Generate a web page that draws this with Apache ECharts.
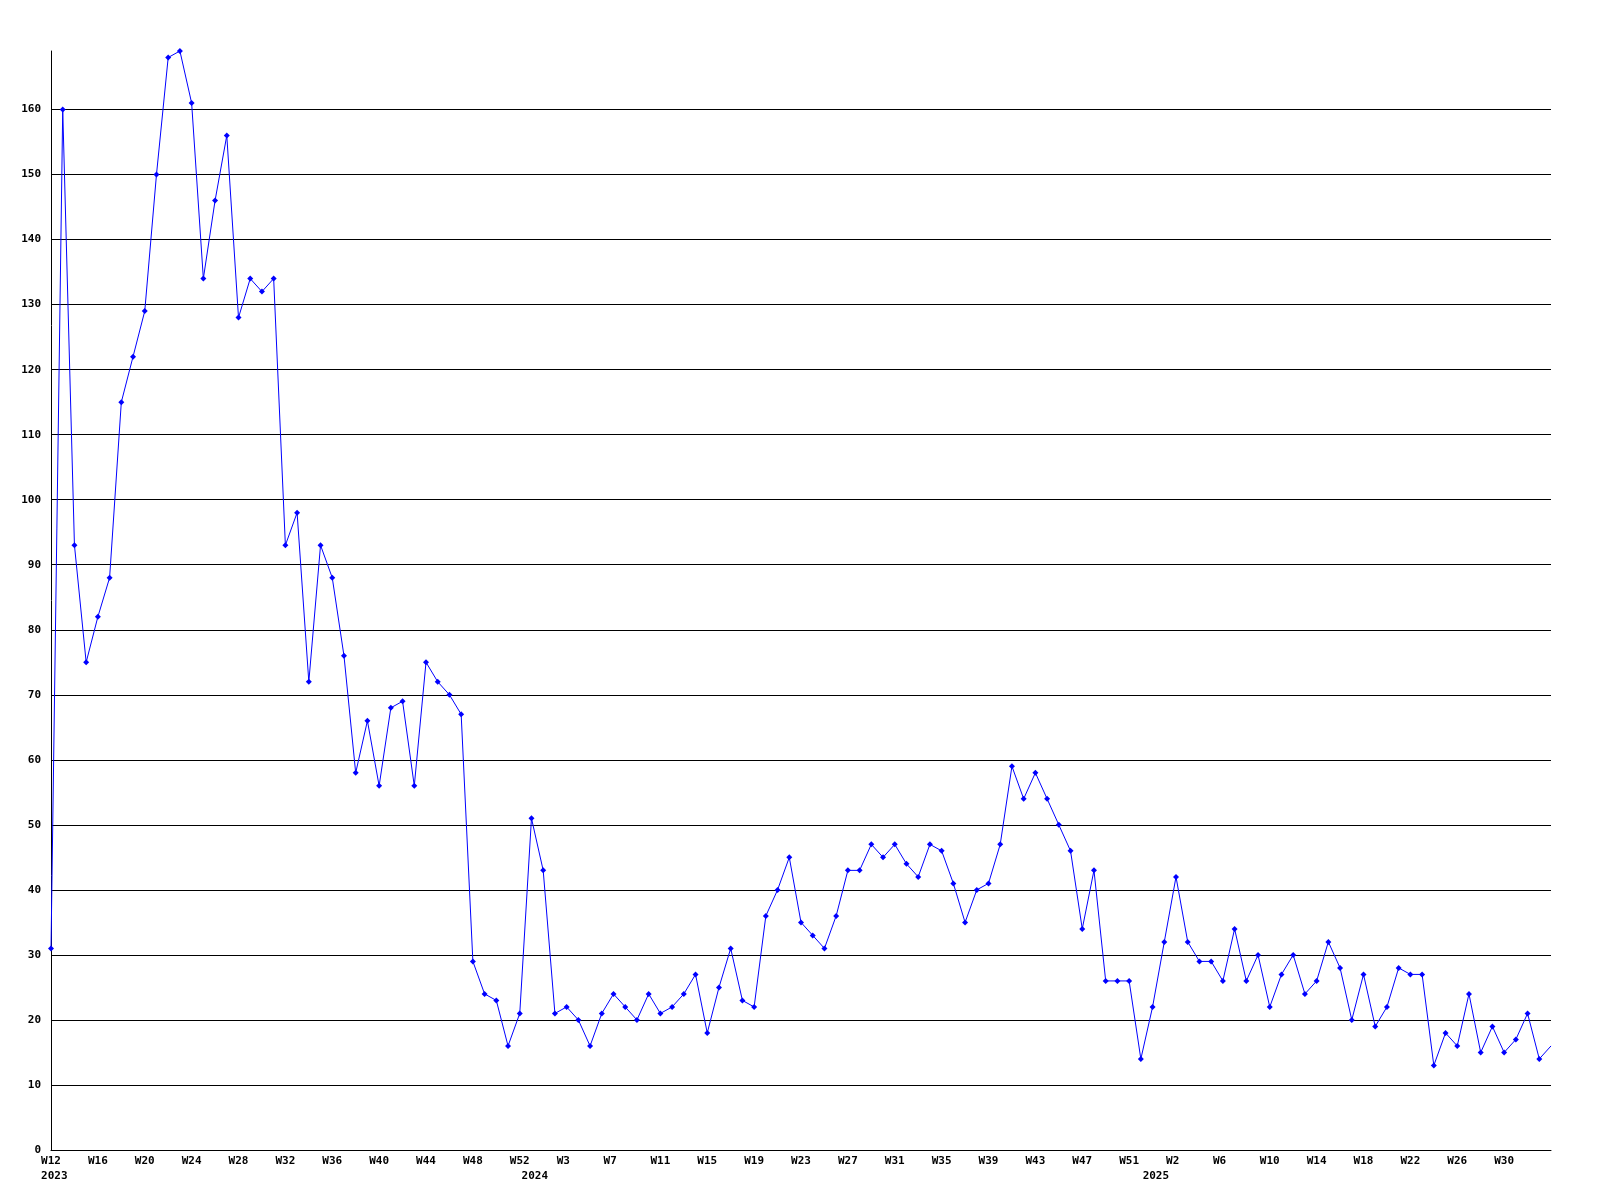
<!DOCTYPE html>
<html>
<head>
<meta charset="utf-8">
<script src="https://cdn.jsdelivr.net/npm/echarts@6/dist/echarts.min.js"></script>
<style>html,body{margin:0;padding:0;background:#fff}#c{width:1600px;height:1200px}</style>
</head>
<body>
<div id="c"></div>
<script>
// Years and their week categories
const years = ['2023', '2024', '2025'];
const weeks2023 = ['W12','W13','W14','W15','W16','W17','W18','W19','W20','W21','W22','W23','W24','W25','W26','W27','W28','W29','W30','W31','W32','W33','W34','W35','W36','W37','W38','W39','W40','W41','W42','W43','W44','W45','W46','W47','W48','W49','W50','W51','W52'];
const weeks2024 = ['W0','W1','W2','W3','W4','W5','W6','W7','W8','W9','W10','W11','W12','W13','W14','W15','W16','W17','W18','W19','W20','W21','W22','W23','W24','W25','W26','W27','W28','W29','W30','W31','W32','W33','W34','W35','W36','W37','W38','W39','W40','W41','W42','W43','W44','W45','W46','W47','W48','W49','W50','W51','W52'];
const weeks2025 = ['W0','W1','W2','W3','W4','W5','W6','W7','W8','W9','W10','W11','W12','W13','W14','W15','W16','W17','W18','W19','W20','W21','W22','W23','W24','W25','W26','W27','W28','W29','W30','W31','W32','W33','W34'];

// Weekly values
const values2023 = [31,160,93,75,82,88,115,122,129,150,168,169,161,134,146,156,128,134,132,134,93,98,72,93,88,76,58,66,56,68,69,56,75,72,70,67,29,24,23,16,21];
const values2024 = [51,43,21,22,20,16,21,24,22,20,24,21,22,24,27,18,25,31,23,22,36,40,45,35,33,31,36,43,43,47,45,47,44,42,47,46,41,35,40,41,47,59,54,58,54,50,46,34,43,26,26,26,14];
const values2025 = [22,32,42,32,29,29,26,34,26,30,22,27,30,24,26,32,28,20,27,19,22,28,27,27,13,18,16,24,15,19,15,17,21,14,16];

// Y tick labels
const yTicks = [0,10,20,30,40,50,60,70,80,90,100,110,120,130,140,150,160];

const weekBlocks = [weeks2023, weeks2024, weeks2025];
const categories = [].concat(weeks2023, weeks2024, weeks2025);
const values = [].concat(values2023, values2024, values2025);
const yearStart = {};
let off = 0;
weekBlocks.forEach((b, i) => { yearStart[off] = years[i]; off += b.length; });

const seriesData = values.map((v, i) => i === values.length - 1 ? {value: v, symbol: 'none'} : v);

const splitColors = yTicks.map(() => '#000000').concat(['rgba(0,0,0,0)']);
const font = 'DejaVu Sans Mono';

const chart = echarts.init(document.getElementById('c'), null, {renderer: 'canvas'});
chart.setOption({
  animation: false,
  backgroundColor: '#ffffff',
  grid: {left: 51, right: 49, top: 51, bottom: 50, containLabel: false, outerBoundsMode: 'none'},
  xAxis: {
    type: 'category',
    data: categories,
    boundaryGap: false,
    axisLine: {show: true, lineStyle: {color: '#000', width: 1}},
    axisTick: {show: false},
    splitLine: {show: false},
    axisLabel: {
      interval: 0,
      margin: 4,
      color: '#000',
      fontFamily: font,
      fontWeight: 'bold',
      fontSize: 11,
      lineHeight: 15,
      align: 'center',
      formatter: function (val, idx) {
        const last = idx === categories.length - 1;
        const line1 = (idx % 4 === 0 && !last) ? val.padEnd(3, ' ') : ' ';
        const yr = yearStart[idx];
        return yr ? line1 + '\n ' + yr : line1;
      }
    }
  },
  yAxis: {
    type: 'value',
    min: 0,
    max: 'dataMax',
    interval: 10,
    axisLine: {show: true, lineStyle: {color: '#000', width: 1}},
    axisTick: {show: false},
    splitLine: {show: true, lineStyle: {color: splitColors, width: 1}},
    axisLabel: {
      margin: 10,
      color: '#000',
      fontFamily: font,
      fontWeight: 'bold',
      fontSize: 11,
      formatter: function (v) { return yTicks.indexOf(v) >= 0 ? String(v) : ''; }
    }
  },
  series: [{
    type: 'line',
    data: seriesData,
    symbol: 'diamond',
    symbolSize: 6,
    showAllSymbol: true,
    itemStyle: {color: '#0000ff'},
    lineStyle: {color: '#0000ff', width: 1},
    clip: true
  }]
});
</script>
</body>
</html>
